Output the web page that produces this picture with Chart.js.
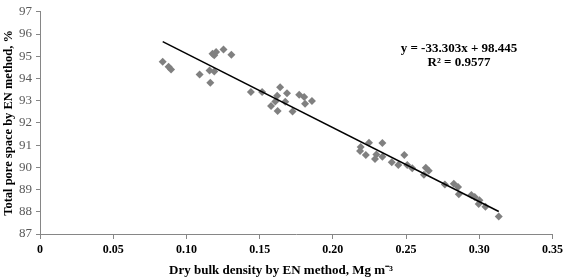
<!DOCTYPE html>
<html lang="en">
<head>
    <meta charset="UTF-8">
    <title>Total pore space vs dry bulk density</title>
    <script src="https://cdn.jsdelivr.net/npm/chart.js"></script>
    <style>
        html, body {
            margin: 0;
            padding: 0;
            background: #ffffff;
        }

        .wrap {
            width: 567px;
            height: 280px;
        }
    </style>
</head>
<body>

<div class="wrap">
    <canvas id="poreChart" width="567" height="280"></canvas>
</div>

<script>
    // dry bulk density (Mg m-3) and total pore space (%), both by EN method
    const bulkDensity = [
        0.0838, 0.0878, 0.0895, 0.1090, 0.1158, 0.1190, 0.1163, 0.1178, 0.1190, 0.1203,
        0.1253, 0.1307, 0.1440, 0.1517, 0.1640, 0.1620, 0.1687, 0.1607, 0.1675, 0.1578,
        0.1623, 0.1725, 0.1770, 0.1804, 0.1857, 0.1810, 0.2190, 0.2247, 0.2186, 0.2225,
        0.2338, 0.2297, 0.2288, 0.2338, 0.2402, 0.2447, 0.2488, 0.2508, 0.2542, 0.2622,
        0.2635, 0.2655, 0.2765, 0.2826, 0.2855, 0.2860, 0.2946, 0.2969, 0.3001, 0.2996,
        0.3042, 0.3133
    ];
    const porePercent = [
        94.75, 94.53, 94.40, 94.18, 94.36, 94.31, 93.81, 95.11, 95.05, 95.19,
        95.30, 95.07, 93.39, 93.39, 93.61, 93.22, 93.34, 92.96, 92.95, 92.76,
        92.54, 92.51, 93.27, 93.17, 92.99, 92.86, 90.92, 91.11, 90.73, 90.56,
        91.10, 90.58, 90.38, 90.48, 90.23, 90.11, 90.56, 90.11, 89.96, 89.67,
        89.98, 89.85, 89.23, 89.26, 89.11, 88.79, 88.75, 88.67, 88.52, 88.35,
        88.23, 87.79
    ];

    // linear trend as printed on the figure
    const slope = -33.303;
    const intercept = 98.445;
    const equationLines = ['y = -33.303x + 98.445', 'R\u00b2 = 0.9577'];

    const xTickLabels = ['0', '0.05', '0.10', '0.15', '0.20', '0.25', '0.30', '0.35'];
    const xTitle = 'Dry bulk density by EN method, Mg m\u207b\u00b3';
    const yTitle = 'Total pore space by EN method, %';

    const points = bulkDensity.map((x, i) => ({x: x, y: porePercent[i]}));
    const xMin = Math.min(...bulkDensity);
    const xMax = Math.max(...bulkDensity);
    const trend = [
        {x: xMin, y: slope * xMin + intercept},
        {x: xMax, y: slope * xMax + intercept}
    ];

    const serif = "'Liberation Serif', 'Times New Roman', serif";

    // equation label and the x axis title (centred on the whole figure)
    const textPlugin = {
        id: 'figureText',
        afterDraw(chart) {
            const ctx = chart.ctx;
            ctx.save();
            ctx.fillStyle = '#000000';
            ctx.textAlign = 'center';
            ctx.textBaseline = 'middle';
            ctx.font = 'bold 13px ' + serif;
            ctx.fillText(equationLines[0], 459, 49);
            ctx.fillText(equationLines[1], 459, 63);
            ctx.fillText(xTitle, 281, 271);
            ctx.restore();
        }
    };

    new Chart(document.getElementById('poreChart').getContext('2d'), {
        type: 'scatter',
        data: {
            datasets: [{
                label: 'EN method',
                data: points,
                pointStyle: 'rectRot',
                pointRadius: 4,
                pointBorderWidth: 0,
                backgroundColor: '#808080',
                borderColor: '#808080',
                order: 2
            }, {
                label: 'Linear trend',
                type: 'line',
                data: trend,
                borderColor: '#000000',
                borderWidth: 1.5,
                pointRadius: 0,
                fill: false,
                order: 1
            }]
        },
        options: {
            responsive: false,
            animation: false,
            layout: {padding: {top: 7, right: 13, left: 0, bottom: 0}},
            plugins: {
                legend: {display: false},
                tooltip: {enabled: false}
            },
            scales: {
                x: {
                    type: 'linear',
                    min: 0,
                    max: 0.35,
                    afterFit: (scale) => { scale.height = 46; },
                    ticks: {
                        stepSize: 0.05,
                        padding: 4,
                        color: '#000000',
                        font: {family: serif, size: 12, weight: 'bold'},
                        callback: (v, i) => xTickLabels[i]
                    },
                    grid: {drawOnChartArea: false, tickLength: 5, color: '#868686'},
                    border: {color: '#868686'}
                },
                y: {
                    min: 87,
                    max: 97,
                    afterFit: (scale) => { scale.width = 40; },
                    ticks: {
                        stepSize: 1,
                        padding: 4,
                        color: '#595959',
                        font: {family: serif, size: 13}
                    },
                    grid: {drawOnChartArea: false, tickLength: 4, color: '#868686'},
                    border: {color: '#868686'},
                    title: {
                        display: true,
                        text: yTitle,
                        color: '#000000',
                        padding: {top: 1, bottom: 0},
                        font: {family: serif, size: 12.5, weight: 'bold'}
                    }
                }
            }
        },
        plugins: [textPlugin]
    });
</script>

</body>
</html>
